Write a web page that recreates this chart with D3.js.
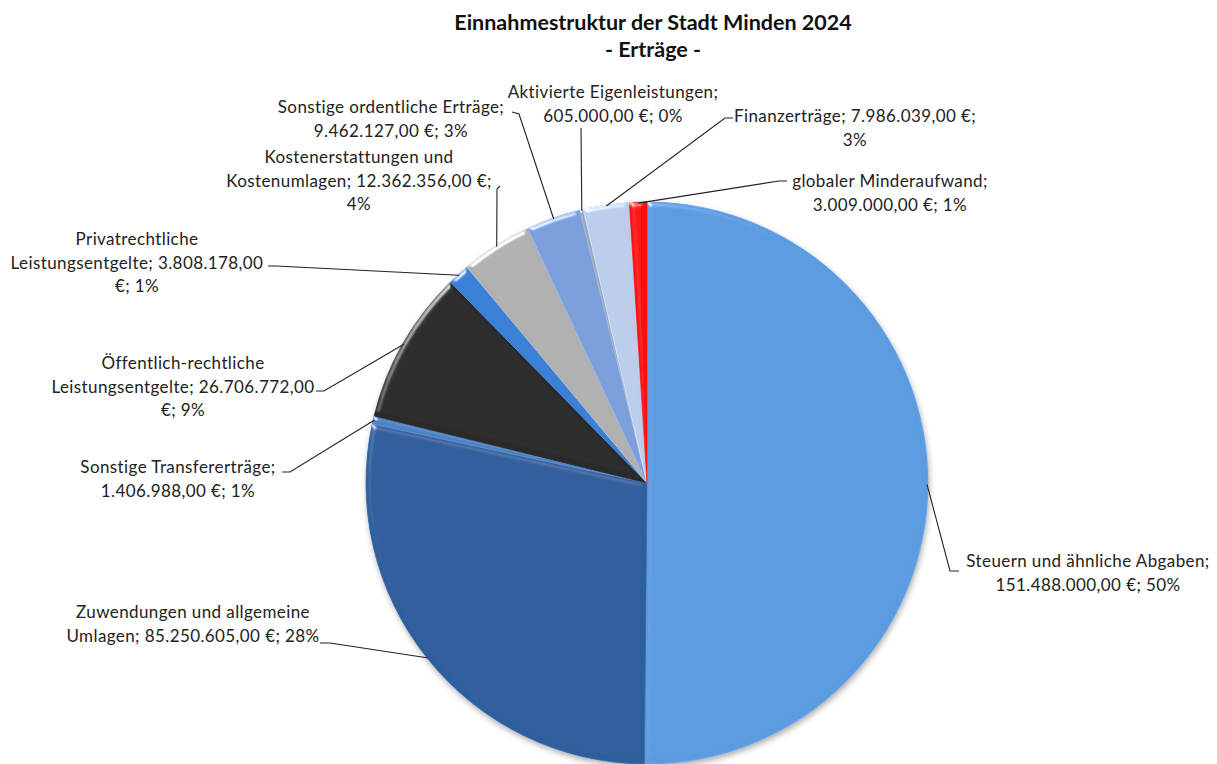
<!DOCTYPE html>
<html>
<head>
<meta charset="utf-8">
<style>
  body { margin: 0; background: #fff; }
  svg { display: block; font-family: Lato, 'Open Sans', Arial, sans-serif; }
  .title { font-size: 21.5px; font-weight: bold; fill: #111; }
  .lbl { font-size: 17px; letter-spacing: 0.4px; fill: #222; }
</style>
</head>
<body>
<svg width="1217" height="764"></svg>

<script src="https://d3js.org/d3.v7.min.js"></script>
<script>
// data (slice order clockwise from 12 o'clock)
let categories = [
  "Steuern und ähnliche Abgaben",
  "Zuwendungen und allgemeine Umlagen",
  "Sonstige Transfererträge",
  "Öffentlich-rechtliche Leistungsentgelte",
  "Privatrechtliche Leistungsentgelte",
  "Kostenerstattungen und Kostenumlagen",
  "Sonstige ordentliche Erträge",
  "Aktivierte Eigenleistungen",
  "Finanzerträge",
  "globaler Minderaufwand"
]
let values = [151488000, 85250605, 1406988, 26706772, 3808178, 12362356, 9462127, 605000, 7986039, 3009000]
let shares = [50, 28, 1, 9, 1, 4, 3, 0, 3, 1]   // percent as printed
let colors = ["#5b9be0", "#2f5f9c", "#4f82c4", "#2a2a2a", "#3a80d6", "#b0b0b0", "#7b9edb", "#9aa6ba", "#bccdec", "#ff1010"]

// label layout: centre x, first baseline, word breaks, leader start + elbow
let labelLayout = [
  { x: 1088, y: 567, breaks: [4],    sx: 959, sy: 571, ex: 950, ey: 571 },
  { x: 193,  y: 618, breaks: [3],    sx: 320, sy: 643, ex: 330, ey: 643 },
  { x: 178,  y: 473, breaks: [2],    sx: 282, sy: 472, ex: 290, ey: 472 },
  { x: 183,  y: 369, breaks: [1, 3], sx: 316, sy: 391, ex: 324, ey: 391 },
  { x: 137,  y: 245, breaks: [1, 3], sx: 268, sy: 266, ex: 276, ey: 266 },
  { x: 359,  y: 163, breaks: [2, 5], sx: 500, sy: 186, ex: 497, ey: 189 },
  { x: 391,  y: 113, breaks: [3],    sx: 512, sy: 112, ex: 519, ey: 114 },
  { x: 613,  y: 98,  breaks: [2],    sx: 581, sy: 128, ex: 581, ey: 128 },
  { x: 855,  y: 122, breaks: [3],    sx: 733, sy: 118, ex: 725, ey: 118 },
  { x: 890,  y: 187, breaks: [2],    sx: 787, sy: 181, ex: 779, ey: 181 }
]

let width = 1217
let height = 764
let cx = 647, cy = 483, radius = 281

let svg = d3.select("svg")
let fmt = d3.formatLocale({ decimal: ",", thousands: ".", grouping: [3], currency: ["", " €"] }).format(",.2f")

let rows = categories.map((c, i) => ({ name: c, value: values[i], share: shares[i], color: colors[i], lay: labelLayout[i] }))

// filters: bevel per slice + soft shadow for the whole pie
let defs = svg.append("defs")
let bevel = defs.append("filter").attr("id", "bevel").attr("x", "-5%").attr("y", "-5%").attr("width", "110%").attr("height", "110%")
bevel.append("feGaussianBlur").attr("in", "SourceAlpha").attr("stdDeviation", 2.5).attr("result", "blur")
bevel.append("feSpecularLighting").attr("in", "blur").attr("surfaceScale", 3).attr("specularConstant", 0.7)
  .attr("specularExponent", 35).attr("lighting-color", "#ffffff").attr("result", "spec")
  .append("feDistantLight").attr("azimuth", 235).attr("elevation", 30)
bevel.append("feComposite").attr("in", "spec").attr("in2", "SourceAlpha").attr("operator", "in").attr("result", "specOut")
bevel.append("feComposite").attr("in", "SourceGraphic").attr("in2", "specOut").attr("operator", "arithmetic")
  .attr("k1", 0).attr("k2", 1).attr("k3", 1).attr("k4", 0)

let shadow = defs.append("filter").attr("id", "shadow").attr("x", "-10%").attr("y", "-10%").attr("width", "120%").attr("height", "120%")
shadow.append("feDropShadow").attr("dx", 1).attr("dy", 3).attr("stdDeviation", 3).attr("flood-color", "#000").attr("flood-opacity", 0.35)

// title
svg.append("text").attr("class", "title").attr("x", 653).attr("y", 30).attr("text-anchor", "middle")
  .text("Einnahmestruktur der Stadt Minden 2024")
svg.append("text").attr("class", "title").attr("x", 653).attr("y", 57).attr("text-anchor", "middle")
  .text("- Erträge -")

let pie = d3.pie().value(d => d.value).sort(null)
let arcs = pie(rows)
let arc = d3.arc().innerRadius(0).outerRadius(radius)
let rim = d3.arc().innerRadius(radius - 1).outerRadius(radius - 1)

let g = svg.append("g").attr("transform", `translate(${cx},${cy})`)

g.append("circle").attr("r", radius).attr("fill", "#2f5f9c").attr("filter", "url(#shadow)")

g.selectAll(".slice")
  .data(arcs)
  .join("path")
  .attr("class", "slice")
  .attr("d", arc)
  .attr("fill", d => d.data.color)
  .attr("stroke", d => d3.color(d.data.color).brighter(0.4))
  .attr("stroke-width", 0.8)
  .attr("filter", "url(#bevel)")

// leader lines
svg.append("g")
  .selectAll("polyline")
  .data(arcs)
  .join("polyline")
  .attr("fill", "none")
  .attr("stroke", "#222")
  .attr("stroke-width", 1.1)
  .attr("points", d => {
    let p = rim.centroid(d)
    let l = d.data.lay
    return [[l.sx, l.sy], [l.ex, l.ey], [p[0] + cx, p[1] + cy]].map(q => q.join(",")).join(" ")
  })

// labels
let labels = svg.append("g")
  .selectAll("text")
  .data(rows)
  .join("text")
  .attr("class", "lbl")
  .attr("text-anchor", "middle")
  .attr("x", d => d.lay.x)
  .attr("y", d => d.lay.y)

labels.each(function (d) {
  let words = (d.name + "; " + fmt(d.value) + " €; " + d.share + "%").split(" ")
  let cuts = [0].concat(d.lay.breaks, [words.length])
  let t = d3.select(this)
  for (let i = 0; i < cuts.length - 1; i++) {
    t.append("tspan")
      .attr("x", d.lay.x)
      .attr("dy", i == 0 ? 0 : 23.5)
      .text(words.slice(cuts[i], cuts[i + 1]).join(" "))
  }
})
</script>
</body>
</html>
